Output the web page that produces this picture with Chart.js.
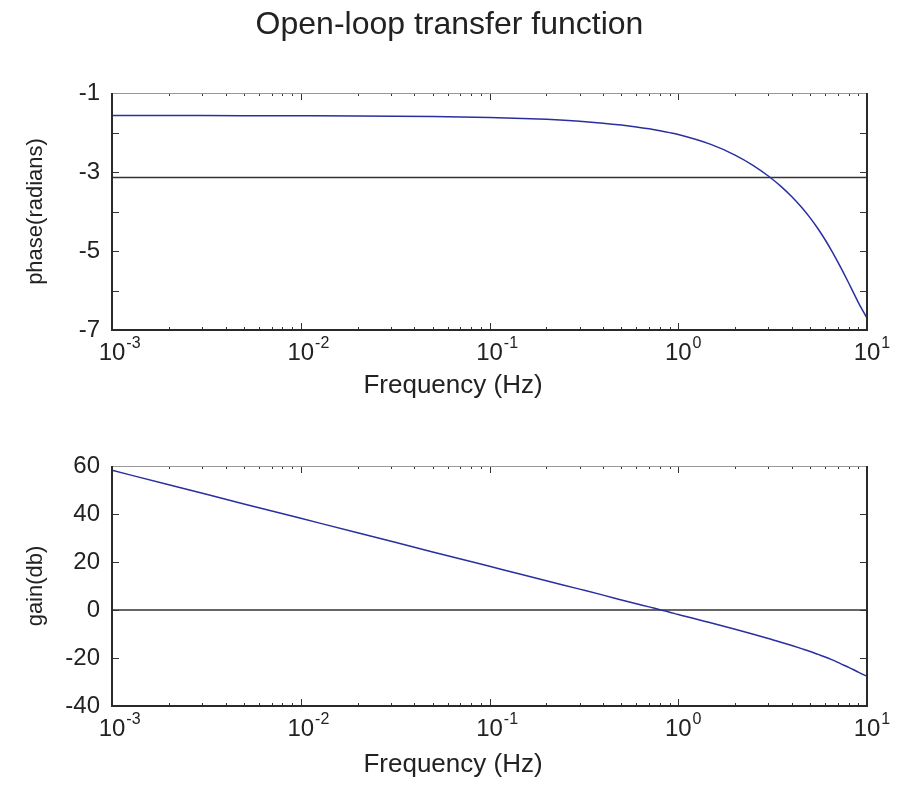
<!DOCTYPE html>
<html>
<head>
<meta charset="utf-8">
<script src="https://cdn.jsdelivr.net/npm/chart.js@4.4.0/dist/chart.umd.min.js"></script>
<style>
  html, body { margin: 0; padding: 0; background: #fff; }
  #wrap { position: relative; width: 899px; height: 786px; }
  canvas { position: absolute; left: 0; }
</style>
</head>
<body>
<div id="wrap">
  <canvas id="phaseChart" width="899" height="420" style="top:0px"></canvas>
  <canvas id="gainChart" width="899" height="366" style="top:420px"></canvas>
</div>
<script>
// values
const freqHz   = [0.001, 0.002, 0.005, 0.01, 0.02, 0.05, 0.1, 0.15, 0.2, 0.3, 0.4, 0.5, 0.6, 0.7, 0.8, 0.9,
                  1, 1.5, 2, 2.5, 3, 3.5, 4, 4.5, 5, 5.5, 6, 6.5, 7, 7.5, 8, 8.5, 9, 9.5, 10];
const phaseRad = [-1.571, -1.572, -1.573, -1.576, -1.580, -1.595, -1.619, -1.643, -1.667, -1.715, -1.763, -1.811, -1.859, -1.907, -1.955, -2.003,
                  -2.051, -2.306, -2.571, -2.836, -3.101, -3.363, -3.627, -3.893, -4.161, -4.436, -4.715, -4.996, -5.274, -5.546, -5.811, -6.067, -6.305, -6.511, -6.701];
const gainDb   = [58.2, 52.2, 44.2, 38.2, 32.2, 24.2, 18.2, 14.7, 12.2, 8.7, 6.2, 4.2, 2.6, 1.3, 0.1, -0.9,
                  -1.9, -5.4, -8.0, -10.1, -11.9, -13.4, -14.8, -16.1, -17.3, -18.5, -19.6, -20.7, -21.8, -22.9, -23.9, -24.9, -25.9, -26.8, -27.6];

const phaseLevel = -3.1416;   // horizontal reference line, top plot
const gainLevel = 0;          // horizontal reference line, bottom plot

const phaseTicks = [-1, -2, -3, -4, -5, -6, -7];
const phaseTickLabels = ['-1', '', '-3', '', '-5', '', '-7'];
const gainTicks = [60, 40, 20, 0, -20, -40];
const gainTickLabels = ['60', '40', '20', '0', '-20', '-40'];
const decades = [0.001, 0.01, 0.1, 1, 10];
const decadeExps = ['-3', '-2', '-1', '0', '1'];

const FONT = '"Liberation Sans", Arial, Helvetica, sans-serif';
const BLUE = '#2a2fa0';

function line(ctx, x1, y1, x2, y2) {
  ctx.beginPath(); ctx.moveTo(x1, y1); ctx.lineTo(x2, y2); ctx.stroke();
}

// MATLAB-ish box axes, inward ticks, superscript decade labels
const matlabAxes = {
  id: 'matlabAxes',
  afterDraw(chart, args, opts) {
    const ctx = chart.ctx, a = chart.chartArea;
    const xs = chart.scales.x, ys = chart.scales.y;
    ctx.save();
    ctx.strokeStyle = '#333';
    ctx.lineWidth = 1;

    opts.yTicks.forEach(v => {
      const y = Math.round(ys.getPixelForValue(v)) + 0.5;
      line(ctx, a.left, y, a.left + 7, y);
      line(ctx, a.right - 7, y, a.right, y);
    });
    decades.forEach(d => {
      const x = Math.round(xs.getPixelForValue(d)) + 0.5;
      line(ctx, x, a.bottom, x, a.bottom - 7);
      line(ctx, x, a.top, x, a.top + 7);
      if (d < 10) {
        for (let k = 2; k <= 9; k++) {
          const xm = Math.round(xs.getPixelForValue(d * k)) + 0.5;
          line(ctx, xm, a.bottom, xm, a.bottom - 3);
          line(ctx, xm, a.top, xm, a.top + 3);
        }
      }
    });

    // box
    ctx.strokeStyle = '#999';
    ctx.lineWidth = 1;
    line(ctx, a.left, a.top + 0.5, a.right, a.top + 0.5);
    ctx.strokeStyle = '#2a2a2a';
    ctx.lineWidth = 2;
    ctx.beginPath();
    ctx.moveTo(a.left, a.top);
    ctx.lineTo(a.left, a.bottom);
    ctx.lineTo(a.right, a.bottom);
    ctx.lineTo(a.right, a.top);
    ctx.stroke();

    ctx.fillStyle = '#222';
    // y tick labels
    ctx.font = '24px ' + FONT;
    ctx.textAlign = 'right';
    ctx.textBaseline = 'middle';
    opts.yTicks.forEach((v, i) => {
      ctx.fillText(opts.yLabels[i], a.left - 12, ys.getPixelForValue(v));
    });

    // x tick labels: 10^n
    ctx.textBaseline = 'alphabetic';
    decades.forEach((d, i) => {
      const x = xs.getPixelForValue(d);
      ctx.font = '24px ' + FONT;
      ctx.textAlign = 'center';
      ctx.fillText('10', x, a.bottom + 30);
      const w = ctx.measureText('10').width;
      ctx.font = '16px ' + FONT;
      ctx.textAlign = 'left';
      ctx.fillText(decadeExps[i], x + w / 2 + 1, a.bottom + 18);
    });

    // axis titles
    ctx.font = '26px ' + FONT;
    ctx.textAlign = 'center';
    ctx.fillText('Frequency (Hz)', 453, a.bottom + opts.xTitleGap);

    ctx.save();
    ctx.translate(42, (a.top + a.bottom) / 2);
    ctx.rotate(-Math.PI / 2);
    ctx.font = '22px ' + FONT;
    ctx.textAlign = 'center';
    ctx.fillText(opts.yTitle, 0, 0);
    ctx.restore();

    if (opts.title) {
      ctx.font = '32px ' + FONT;
      ctx.textAlign = 'center';
      ctx.fillText(opts.title, 449.5, 34);
    }
    ctx.restore();
  }
};

function makeChart(id, values, level, ymin, ymax, padding, axesOpts) {
  return new Chart(document.getElementById(id), {
    type: 'line',
    data: {
      datasets: [
        {
          data: freqHz.map((f, i) => ({ x: f, y: values[i] })),
          borderColor: BLUE,
          borderWidth: 1.5,
          pointRadius: 0,
          cubicInterpolationMode: 'monotone',
          fill: false
        },
        {
          data: [{ x: freqHz[0], y: level }, { x: freqHz[freqHz.length - 1], y: level }],
          borderColor: '#333',
          borderWidth: 1.5,
          pointRadius: 0,
          fill: false
        }
      ]
    },
    options: {
      responsive: false,
      animation: false,
      devicePixelRatio: 1,
      layout: { padding: padding },
      plugins: {
        legend: { display: false },
        tooltip: { enabled: false },
        matlabAxes: axesOpts
      },
      scales: {
        x: { type: 'logarithmic', min: 0.001, max: 10, display: false },
        y: { type: 'linear', min: ymin, max: ymax, display: false }
      }
    },
    plugins: [matlabAxes]
  });
}

makeChart('phaseChart', phaseRad, phaseLevel, -7, -1,
  { left: 112, right: 32, top: 93, bottom: 90 },
  { yTicks: phaseTicks, yLabels: phaseTickLabels, yTitle: 'phase(radians)',
    xTitleGap: 63, title: 'Open-loop transfer function' });

makeChart('gainChart', gainDb, gainLevel, -40, 60,
  { left: 112, right: 32, top: 46, bottom: 80 },
  { yTicks: gainTicks, yLabels: gainTickLabels, yTitle: 'gain(db)',
    xTitleGap: 66, title: '' });
</script>
</body>
</html>
